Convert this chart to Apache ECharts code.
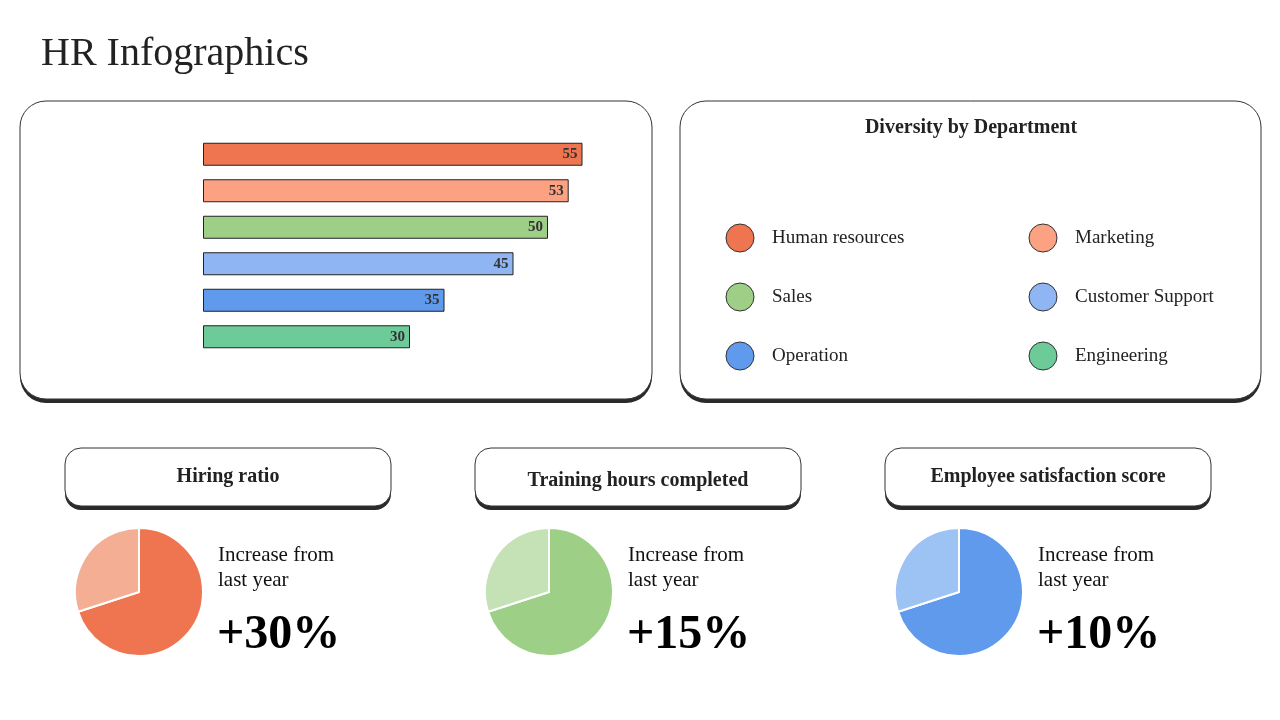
<!DOCTYPE html>
<html>
<head>
<meta charset="utf-8" />
<title>HR Infographics</title>
<style>
html,body{margin:0;width:100%;height:100%;background:#fff;}
#main{width:1280px;height:720px;}
</style>
</head>
<body>
<div id="main"></div>
<script src="https://cdn.jsdelivr.net/npm/echarts@6/dist/echarts.min.js"></script>
<script>
// bar chart data
var departments = ['Human Resources', 'Marketing', 'Sales', 'Customer Support', 'Operation', 'Engeeniring'];
var deptValues = [55, 53, 50, 45, 35, 30];
var deptColors = ['#EE7550', '#FCA283', '#9ECF86', '#8FB5F2', '#5F9AEC', '#6DCB9A'];
var xTicks = [0, 10, 20, 30, 40, 50, 60];

// diversity legend
var diversityNames = ['Human resources', 'Marketing', 'Sales', 'Customer Support', 'Operation', 'Engineering'];
var diversityColors = ['#EE7550', '#FCA283', '#9ECF86', '#8FB5F2', '#5F9AEC', '#6DCB9A'];

// kpi pies
var kpiTitles = ['Hiring ratio', 'Training hours completed', 'Employee satisfaction score'];
var kpiMain = [70, 70, 70];
var kpiRest = [30, 30, 30];
var kpiIncrease = ['+30%', '+15%', '+10%'];
var kpiColors = [['#EE7550', '#F4AE94'], ['#9ECF86', '#C5E2B6'], ['#5F9AEC', '#9DC2F4']];

var FONT = 'Liberation Serif';
var chart = echarts.init(document.getElementById('main'));

function box(x, y, w, h, r) {
	return [
		{type: 'rect', shape: {x: x, y: y + 4, width: w, height: h, r: r}, style: {fill: '#2a2a2a'}, z: 0},
		{type: 'rect', shape: {x: x, y: y, width: w, height: h, r: r}, style: {fill: '#fff', stroke: '#333', lineWidth: 1}, z: 1}
	];
}

var graphics = [];
graphics.push({type: 'text', left: 41, top: 34, style: {text: 'HR Infographics', font: '40px ' + FONT, fill: '#222'}, z: 5});
graphics = graphics.concat(box(20, 101, 632, 298, 26));
graphics = graphics.concat(box(680, 101, 581, 298, 26));
graphics.push({type: 'text', x: 971, y: 128, style: {text: 'Diversity by Department', font: 'bold 20px ' + FONT, fill: '#222', align: 'center', verticalAlign: 'middle'}, z: 5});
for (var i = 0; i < diversityNames.length; i++) {
	var cx = i % 2 === 0 ? 740 : 1043;
	var cy = 238 + Math.floor(i / 2) * 59;
	graphics.push({type: 'circle', shape: {cx: cx, cy: cy, r: 14}, style: {fill: diversityColors[i], stroke: '#333', lineWidth: 1}, z: 5});
	graphics.push({type: 'text', x: cx + 32, y: cy, style: {text: diversityNames[i], font: '19px ' + FONT, fill: '#222', verticalAlign: 'middle'}, z: 5});
}
for (var k = 0; k < kpiTitles.length; k++) {
	var bx = 65 + k * 410;
	graphics = graphics.concat(box(bx, 448, 326, 58, 16));
	graphics.push({type: 'text', x: bx + 163, y: k === 1 ? 481 : 477, style: {text: kpiTitles[k], font: 'bold 20px ' + FONT, fill: '#222', align: 'center', verticalAlign: 'middle'}, z: 5});
	graphics.push({type: 'text', x: bx + 153, y: 555, style: {text: 'Increase from', font: '21px ' + FONT, fill: '#111', verticalAlign: 'middle'}, z: 5});
	graphics.push({type: 'text', x: bx + 153, y: 580, style: {text: 'last year', font: '21px ' + FONT, fill: '#111', verticalAlign: 'middle'}, z: 5});
	graphics.push({type: 'text', x: bx + 152, y: 636, style: {text: kpiIncrease[k], font: 'bold 48px ' + FONT, fill: '#000', verticalAlign: 'middle'}, z: 5});
}

var series = [{
	type: 'bar',
	data: deptValues.map(function(v, i) {
		return {value: v, itemStyle: {color: deptColors[i]}};
	}),
	barWidth: 23,
	itemStyle: {borderColor: '#222', borderWidth: 1},
	label: {show: true, position: 'insideRight', color: '#333', fontFamily: FONT, fontWeight: 'bold', fontSize: 15},
	z: 5
}];
for (var p = 0; p < kpiTitles.length; p++) {
	series.push({
		type: 'pie',
		center: [139 + p * 410, 592],
		radius: 64,
		startAngle: 90,
		clockwise: true,
		label: {show: false},
		emphasis: {disabled: true},
		itemStyle: {borderColor: '#fff', borderWidth: 2},
		data: [
			{value: kpiMain[p], itemStyle: {color: kpiColors[p][0]}},
			{value: kpiRest[p], itemStyle: {color: kpiColors[p][1]}}
		],
		z: 5
	});
}

chart.setOption({
	animation: false,
	grid: {left: 203, top: 136, width: 414, height: 219},
	xAxis: {
		type: 'value', min: xTicks[0], max: xTicks[xTicks.length - 1], interval: 10,
		splitLine: {show: false}, axisLine: {show: false}, axisTick: {show: false},
		axisLabel: {color: '#666', fontFamily: FONT, fontSize: 15, margin: 14}
	},
	yAxis: {
		type: 'category', data: departments, inverse: true,
		axisLine: {lineStyle: {color: '#ddd'}}, axisTick: {show: false},
		axisLabel: {color: '#222', fontFamily: FONT, fontSize: 18, margin: 17}
	},
	graphic: graphics,
	series: series
});
</script>
</body>
</html>
